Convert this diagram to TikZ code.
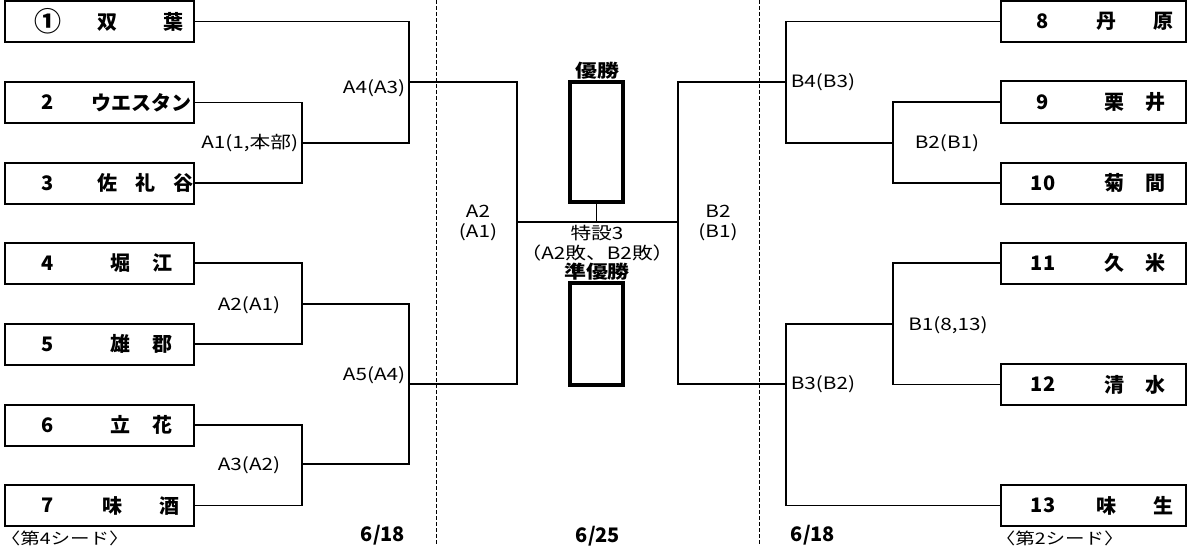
\documentclass[tikz,border=0pt]{standalone}
\usepackage{fontspec}
\setmainfont{Noto Sans CJK JP}
\newfontfamily\widefont[FakeStretch=1.22]{Noto Sans CJK JP}
\usepackage{tikz}
\newcommand{\gap}[1]{\hspace{#1pt}}
% team box: name, y, number, school, x of school
\newcommand{\lteam}[5]{%
  \node[team, minimum width=189pt] (#1) at (99.5,#2) {};
  \node[tname] (#1-no) at (48,#2) {#3};
  \node[tname] (#1-na) at (#5,#2) {#4};
}
\newcommand{\rteam}[5]{%
  \node[team, minimum width=185pt] (#1) at (1093.5,#2) {};
  \node[tname] (#1-no) at (1043,#2) {#3};
  \node[tname] (#1-na) at (#5,#2) {#4};
}

\begin{document}
\begin{tikzpicture}[x=1pt,y=-1pt,line width=1.6pt,
    team/.style={draw,line width=2pt,minimum height=41pt,inner sep=0pt},
    tname/.style={inner sep=0pt,font=\fontsize{20}{20}\selectfont\bfseries},
    lbl/.style={inner sep=0pt,font=\widefont\fontsize{17}{20}\selectfont},
    title/.style={inner sep=0pt,font=\widefont\fontsize{18}{20}\selectfont\bfseries},
    cup/.style={draw,line width=4pt,minimum width=53pt,inner sep=0pt},
    date/.style={inner sep=0pt,font=\fontsize{20}{20}\selectfont\bfseries},
    seed/.style={inner sep=0pt,font=\widefont\fontsize{16}{16}\selectfont},
    day/.style={line width=1pt,dash pattern=on 4pt off 2pt}]
  \useasboundingbox (0,0) rectangle (1187,551);

  % dividers between days
  \draw[day] (436,0) coordinate (d1) -- (436,545);
  \draw[day] (759,0) coordinate (d2) -- (759,545);

  % left block
  \lteam{t1}{21.5}{\fontsize{27}{27}\selectfont ①}{双\gap{46}葉}{140.5}
  \lteam{t2}{102.5}{2}{ウエスタン}{141}
  \lteam{t3}{183}{3}{佐\gap{18}礼\gap{18}谷}{145}
  \lteam{t4}{263}{4}{堀\gap{22}江}{141.5}
  \lteam{t5}{344}{5}{雄\gap{22}郡}{141.5}
  \lteam{t6}{425}{6}{立\gap{22}花}{141.5}
  \lteam{t7}{505.5}{7}{味\gap{37}酒}{141}

  % right block
  \rteam{t8}{21.5}{8}{丹\gap{37}原}{1135}
  \rteam{t9}{102}{9}{栗\gap{21}井}{1135}
  \rteam{t10}{183}{10}{菊\gap{21}間}{1135}
  \rteam{t11}{263}{11}{久\gap{21}米}{1135}
  \rteam{t12}{384.5}{12}{清\gap{21}水}{1135}
  \rteam{t13}{505.5}{13}{味\gap{37}生}{1135}

  % junctions
  \coordinate (a1) at (302,143);
  \coordinate (a2) at (302,304);
  \coordinate (a3) at (302,464);
  \coordinate (a4) at (409,82);
  \coordinate (a5) at (409,384);
  \coordinate (fa) at (517,222);
  \coordinate (fb) at (678,222);
  \coordinate (b1) at (893,324);
  \coordinate (b2) at (893,143);
  \coordinate (b3) at (786,384);
  \coordinate (b4) at (786,82);

  \draw (t2.east) -| (a1) |- (t3.east);
  \draw (t4.east) -| (a2) |- (t5.east);
  \draw (t6.east) -| (a3) |- (t7.east);
  \draw (t1.east) -| (a4) |- (a1);
  \draw (a2) -| (a5) |- (a3);
  \draw (a4) -| (fa) |- (a5);

  \draw (t9.west) -| (b2) |- (t10.west);
  \draw (t11.west) -| (b1) |- (t12.west);
  \draw (t8.west) -| (b4) |- (b2);
  \draw (b1) -| (b3) |- (t13.west);
  \draw (b4) -| (fb) |- (b3);
  \draw (fa) -- (fb);

  % final
  \node[cup, minimum height=120pt] (win) at (596.5,142) {};
  \node[cup, minimum height=102pt] (ru) at (596.5,334) {};
  \draw (win.south) -- (win.south |- fa);
  \node[title] (win-l) at (597,71) {優勝};
  \node[title] (ru-l) at (597,272) {準優勝};
  \node[lbl, align=center] (m3) at (597,243) {特設3\\（A2敗、B2敗）};

  % match labels
  \node[lbl, anchor=east] (la1) at (299,143) {A1(1,本部)};
  \node[lbl] (la2) at (249,305) {A2(A1)};
  \node[lbl] (la3) at (249,465) {A3(A2)};
  \node[lbl, anchor=east] (la4) at (406,88) {A4(A3)};
  \node[lbl, anchor=east] (la5) at (406,375) {A5(A4)};
  \node[lbl, align=center] (lfa) at (478,223) {A2\\(A1)};
  \node[lbl, align=center] (lfb) at (718,223) {B2\\(B1)};
  \node[lbl, anchor=west] (lb4) at (790,82) {B4(B3)};
  \node[lbl] (lb2) at (947,143) {B2(B1)};
  \node[lbl] (lb1) at (948,325) {B1(8,13)};
  \node[lbl, anchor=west] (lb3) at (790,384) {B3(B2)};

  % days and seeds
  \node[date] (day1) at (383,535) {6/18};
  \node[date] (day2) at (598,536) {6/25};
  \node[date] (day3) at (813,535) {6/18};
  \node[seed, anchor=west] (s4) at (0,538) {〈第4シード〉};
  \node[seed, anchor=west] (s2) at (995,538) {〈第2シード〉};
\end{tikzpicture}
\end{document}
